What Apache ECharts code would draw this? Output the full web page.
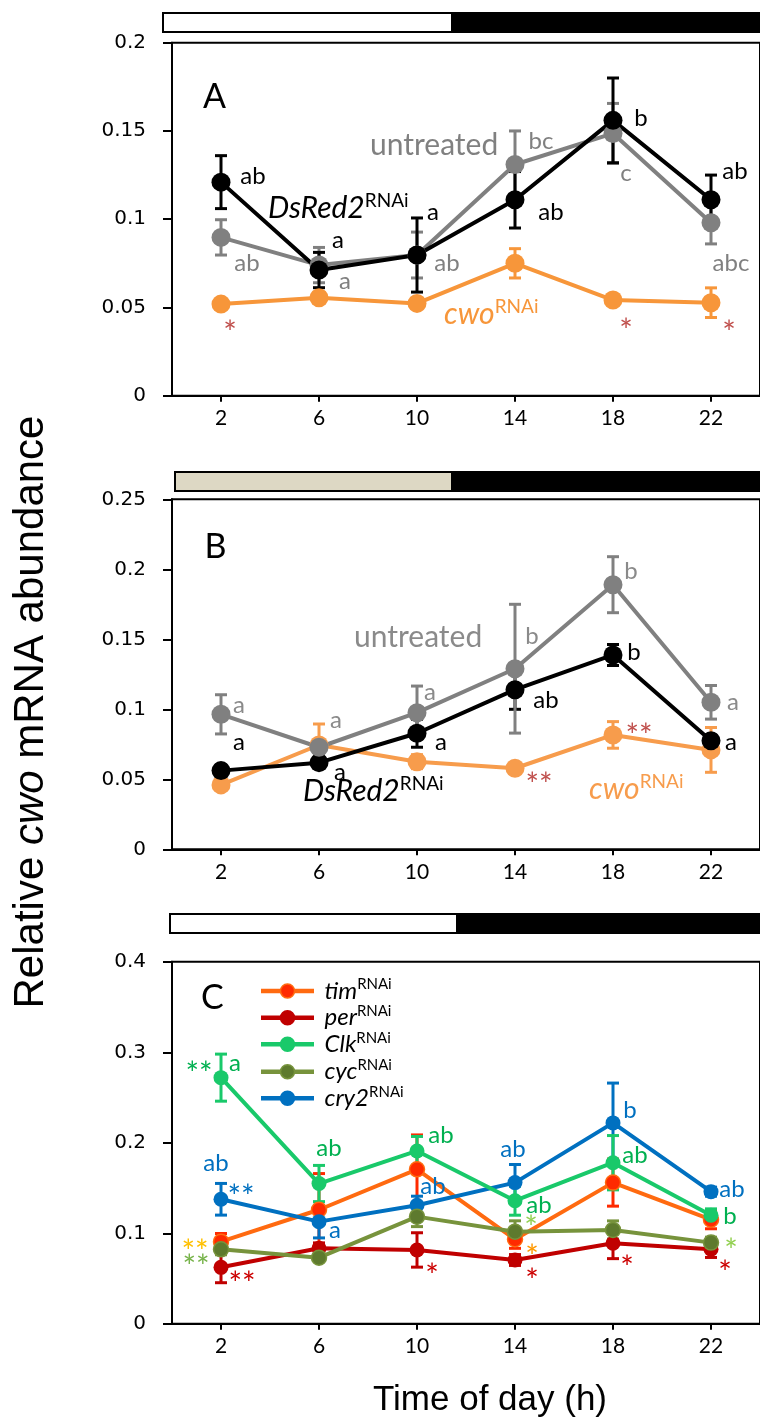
<!DOCTYPE html>
<html><head><meta charset="utf-8">
<script src="https://cdn.jsdelivr.net/npm/echarts@6/dist/echarts.min.js"></script>
<style>html,body{margin:0;padding:0;background:#fff}#c{width:760px;height:1420px}</style>
</head><body><div id="c"></div>
<script>
// ---------- DATA ----------
const hours = [2, 6, 10, 14, 18, 22];
const xTickLabels = ['2', '6', '10', '14', '18', '22'];

// Panel A
const A_untreated = [0.0897, 0.074, 0.0797, 0.131, 0.1486, 0.098];
const A_untreated_err = [0.010, 0.010, 0.013, 0.019, 0.017, 0.012];
const A_dsred = [0.121, 0.0712, 0.0797, 0.111, 0.156, 0.111];
const A_dsred_err = [0.015, 0.010, 0.021, 0.016, 0.024, 0.014];
const A_cwo = [0.0519, 0.0555, 0.0523, 0.075, 0.0542, 0.0527];
const A_cwo_err = [0.002, 0.003, 0.002, 0.0083, 0.002, 0.0084];
const A_untreated_letters = ['ab', 'a', 'ab', 'bc', 'c', 'abc'];
const A_dsred_letters = ['ab', 'a', 'a', 'ab', 'b', 'ab'];
const A_cwo_sig = ['*', '', '', '', '*', '*'];

// Panel B
const B_untreated = [0.0964, 0.0729, 0.0976, 0.129, 0.189, 0.105];
const B_untreated_err = [0.014, 0.005, 0.019, 0.046, 0.020, 0.012];
const B_dsred = [0.0562, 0.0619, 0.0829, 0.114, 0.1388, 0.0776];
const B_dsred_err = [0.004, 0.004, 0.010, 0.014, 0.0075, 0.004];
const B_cwo = [0.046, 0.0745, 0.0626, 0.0579, 0.0817, 0.071];
const B_cwo_err = [0.003, 0.015, 0.005, 0.003, 0.0095, 0.016];
const B_untreated_letters = ['a', 'a', 'a', 'b', 'b', 'a'];
const B_dsred_letters = ['a', 'a', 'a', 'ab', 'b', 'a'];
const B_cwo_sig = ['', '', '', '**', '**', ''];

// Panel C
const C_names = ['tim', 'per', 'Clk', 'cyc', 'cry2'];
const C_tim = [0.0908, 0.126, 0.1707, 0.0934, 0.156, 0.115];
const C_tim_err = [0.009, 0.040, 0.038, 0.010, 0.026, 0.010];
const C_per = [0.0624, 0.0834, 0.0816, 0.0705, 0.089, 0.0823];
const C_per_err = [0.017, 0.006, 0.019, 0.006, 0.017, 0.009];
const C_clk = [0.272, 0.155, 0.191, 0.136, 0.178, 0.120];
const C_clk_err = [0.026, 0.020, 0.016, 0.016, 0.030, 0.007];
const C_cyc = [0.0823, 0.0731, 0.1184, 0.1018, 0.1037, 0.0897];
const C_cyc_err = [0.006, 0.004, 0.011, 0.012, 0.010, 0.006];
const C_cry2 = [0.1376, 0.1129, 0.131, 0.156, 0.222, 0.146];
const C_cry2_err = [0.0175, 0.018, 0.010, 0.020, 0.044, 0.005];
const C_clk_letters = ['a', 'ab', 'ab', 'ab', 'ab', 'b'];
const C_cry2_letters = ['ab', 'a', 'ab', 'ab', 'b', 'ab'];
const C_clk_sig = ['**', '', '', '', '', ''];
const C_cry2_sig = ['**', '', '', '', '', ''];
const C_tim_sig = ['**', '', '', '*', '', ''];
const C_cyc_sig = ['**', '', '', '*', '', '*'];
const C_per_sig = ['**', '', '*', '*', '*', '*'];

// ---------- STYLE ----------
const BLACK = '#000000', GRAY = '#808080', ORANGE_A = '#F7963A', ORANGE_B = '#F79C4C';
const SIGRED = '#C0504D';
const TIM = '#FF6A10', TIM_M = '#FF2A00', PER = '#C00000', CLK = '#19C96A', CYC = '#77933C', CYC_M = '#5E7A2E', CRY = '#0070C0';
const LET_GREEN = '#00B050';
const LETTER_FONT = 'Lato';
const STAR_SIZE = 32;

const chart = echarts.init(document.getElementById('c'), null, {renderer: 'canvas'});

const grids = [
  {left: 172, top: 42.7, width: 600, height: 353},
  {left: 172, top: 499.3, width: 600, height: 350},
  {left: 172, top: 961.8, width: 600, height: 362}
];
const yMax = [0.2, 0.25, 0.4];
const yInt = [0.05, 0.05, 0.1];

const series = [];
function errSeries(gi, vals, errs, color, capW, lw) {
  series.push({
    type: 'custom', xAxisIndex: gi, yAxisIndex: gi, silent: true,
    data: hours.map((h, i) => [h, vals[i], errs[i]]),
    encode: {x: 0, y: 1},
    renderItem: function (params, api) {
      const x = api.value(0), v = api.value(1), e = api.value(2);
      const t = api.coord([x, v + e]), b = api.coord([x, v - e]);
      const st = {stroke: color, lineWidth: lw};
      return {type: 'group', children: [
        {type: 'line', shape: {x1: t[0], y1: t[1], x2: b[0], y2: b[1]}, style: st},
        {type: 'line', shape: {x1: t[0] - capW / 2, y1: t[1], x2: t[0] + capW / 2, y2: t[1]}, style: st},
        {type: 'line', shape: {x1: b[0] - capW / 2, y1: b[1], x2: b[0] + capW / 2, y2: b[1]}, style: st}
      ]};
    }
  });
}
function lineSeries(gi, name, vals, color, mcolor, size, lw, bcolor) {
  series.push({
    type: 'line', name: name, xAxisIndex: gi, yAxisIndex: gi,
    data: hours.map((h, i) => [h, vals[i]]),
    symbol: 'circle', symbolSize: size, showSymbol: true,
    lineStyle: {color: color, width: lw},
    itemStyle: {color: mcolor, borderColor: bcolor || mcolor, borderWidth: bcolor ? 1.5 : 0},
    emphasis: {disabled: true}, animation: false
  });
}
function annSeries(gi, vals, texts, offsets, color, size, colors) {
  const items = [];
  texts.forEach((t, i) => {
    if (!t) return;
    const o = offsets[i];
    const isStar = t.indexOf('*') >= 0;
    items.push({x: hours[i], y: vals[i], dx: o[0], dy: o[1] + (isStar ? Math.round(STAR_SIZE * 0.27) : 0),
      text: t, size: isStar ? STAR_SIZE : size,
      color: colors && colors[i] ? colors[i] : color});
  });
  series.push({
    type: 'custom', xAxisIndex: gi, yAxisIndex: gi, silent: true, clip: false, z: 5,
    data: items.map(a => [a.x, a.y]),
    encode: {x: 0, y: 1},
    renderItem: function (params, api) {
      const a = items[params.dataIndex];
      const p = api.coord([a.x, a.y]);
      return {type: 'text', x: p[0] + a.dx, y: p[1] + a.dy,
        style: {text: a.text, fill: a.color, font: a.size + 'px ' + LETTER_FONT, align: 'center', verticalAlign: 'middle'}};
    }
  });
}

// Panel A (order: orange, gray, black)
errSeries(0, A_cwo, A_cwo_err, ORANGE_A, 12, 3);
lineSeries(0, 'A cwo', A_cwo, ORANGE_A, ORANGE_A, 19, 4);
errSeries(0, A_untreated, A_untreated_err, GRAY, 12, 3);
lineSeries(0, 'A untreated', A_untreated, GRAY, GRAY, 19, 4);
errSeries(0, A_dsred, A_dsred_err, BLACK, 12, 3);
lineSeries(0, 'A dsred', A_dsred, BLACK, BLACK, 19, 4);
annSeries(0, A_dsred, A_dsred_letters, [[32,-6],[19,-30],[16,-43],[36,12],[28,-2],[24,-29]], BLACK, 24);
annSeries(0, A_untreated, A_untreated_letters, [[26,26],[26,16],[30,8],[26,-23],[13,40],[20,41]], GRAY, 24);
annSeries(0, A_cwo, A_cwo_sig, [[9,21],null,null,null,[13,23],[18,22]], SIGRED, 22);

// Panel B (order: orange, black, gray)
errSeries(1, B_cwo, B_cwo_err, ORANGE_B, 12, 3);
lineSeries(1, 'B cwo', B_cwo, ORANGE_B, ORANGE_B, 19, 4);
errSeries(1, B_dsred, B_dsred_err, BLACK, 12, 3);
lineSeries(1, 'B dsred', B_dsred, BLACK, BLACK, 19, 4);
errSeries(1, B_untreated, B_untreated_err, GRAY, 12, 3);
lineSeries(1, 'B untreated', B_untreated, GRAY, GRAY, 19, 4);
annSeries(1, B_untreated, B_untreated_letters, [[18,-9],[17,-27],[13,-20],[17,-32],[18,-13],[22,0]], '#8A8A8A', 24);
annSeries(1, B_dsred, B_dsred_letters, [[18,-28],[21,10],[24,9],[31,11],[21,-3],[20,2]], BLACK, 24);
annSeries(1, B_cwo, B_cwo_sig, [null,null,null,[24,8],[26,-7],null], SIGRED, 22);

// Panel C (order: tim, per, cry2, Clk, cyc)
const C_style = {
  tim: {vals: C_tim, err: C_tim_err, line: TIM, marker: TIM_M, border: TIM},
  per: {vals: C_per, err: C_per_err, line: PER, marker: PER},
  cry2: {vals: C_cry2, err: C_cry2_err, line: CRY, marker: CRY},
  Clk: {vals: C_clk, err: C_clk_err, line: CLK, marker: CLK},
  cyc: {vals: C_cyc, err: C_cyc_err, line: CYC, marker: CYC_M, border: CYC}
};
['tim', 'per', 'cry2', 'Clk', 'cyc'].forEach(n => {
  const s = C_style[n];
  errSeries(2, s.vals, s.err, n === 'tim' ? TIM_M : s.line, 12, 3);
  lineSeries(2, n, s.vals, s.line, s.marker, 15, 4, s.border);
});
annSeries(2, C_clk, C_clk_letters, [[14,-14],[10,-35],[24,-16],[24,5],[22,-7],[19,1]], LET_GREEN, 24);
annSeries(2, C_clk, C_clk_sig, [[-22,-12]], LET_GREEN, 22);
annSeries(2, C_cry2, C_cry2_letters, [[-5,-36],[16,9],[16,-19],[-2,-33],[17,-13],[21,-2]], CRY, 24);
annSeries(2, C_cry2, C_cry2_sig, [[20,-11]], CRY, 22);
annSeries(2, C_tim, C_tim_sig, [[-26,2],null,null,[17,9]], '#FF9900', 22, ['#FFC000']);
annSeries(2, C_cyc, C_cyc_sig, [[-25,9],null,null,[16,-12],null,[20,0]], '#92D050', 22, ['#77B34A']);
annSeries(2, C_per, C_per_sig, [[21,8],null,[15,18],[17,13],[14,16],[14,15]], '#CC0000', 22);

const xAxes = grids.map((g, i) => ({
  gridIndex: i, type: 'value', min: 0, max: 24,
  axisLine: {show: true, lineStyle: {color: '#000', width: 2}},
  axisTick: {show: true, customValues: hours, length: 6, lineStyle: {color: '#000', width: 2}},
  axisLabel: {show: true, customValues: hours, margin: 12, fontFamily: 'Lato', fontSize: 21, color: '#000',
    formatter: v => xTickLabels[hours.indexOf(v)] || ''},
  splitLine: {show: false}
}));
const yAxes = grids.map((g, i) => ({
  gridIndex: i, type: 'value', min: 0, max: yMax[i], interval: yInt[i],
  axisLine: {show: true, lineStyle: {color: '#000', width: 2}},
  axisTick: {show: true, length: 9, lineStyle: {color: '#000', width: 2}},
  axisLabel: {margin: 26, fontFamily: 'DejaVu Sans', fontSize: 20, color: '#000'},
  splitLine: {show: false}
}));

function rt(x, y, text, rich, extra) {
  return Object.assign({type: 'text', x: x, y: y, z: 10, silent: true,
    style: {text: text, rich: rich, verticalAlign: 'middle', align: 'left'}}, extra || {});
}
function nameRich(color, big, small) {
  return {
    i: {fontFamily: 'Lato', fontStyle: 'italic', fontSize: big, lineHeight: big + 4, fill: color},
    s: {fontFamily: 'Lato', fontSize: small, lineHeight: small + 3, verticalAlign: 'top', fill: color},
    n: {fontFamily: 'Lato', fontSize: big, lineHeight: big + 4, fill: color}
  };
}

const graphics = [
  // day/night bars
  {type: 'rect', shape: {x: 163, y: 13, width: 289, height: 19}, style: {fill: '#fff', stroke: '#000', lineWidth: 2}, silent: true},
  {type: 'rect', shape: {x: 452, y: 12, width: 320, height: 21}, style: {fill: '#000'}, silent: true},
  {type: 'rect', shape: {x: 175, y: 472, width: 277, height: 19}, style: {fill: '#DDD8C4', stroke: '#000', lineWidth: 2}, silent: true},
  {type: 'rect', shape: {x: 452, y: 471, width: 320, height: 21}, style: {fill: '#000'}, silent: true},
  {type: 'rect', shape: {x: 170, y: 914, width: 287, height: 19}, style: {fill: '#fff', stroke: '#000', lineWidth: 2}, silent: true},
  {type: 'rect', shape: {x: 457, y: 913, width: 315, height: 21}, style: {fill: '#000'}, silent: true},
  // panel letters
  {type: 'text', x: 214.6, y: 96.7, style: {text: 'A', font: '34px Lato', fill: '#000', align: 'center', verticalAlign: 'middle'}, silent: true},
  {type: 'text', x: 215.4, y: 546.7, style: {text: 'B', font: '34px Lato', fill: '#000', align: 'center', verticalAlign: 'middle'}, silent: true},
  {type: 'text', x: 212.4, y: 998.3, style: {text: 'C', font: '34px Lato', fill: '#000', align: 'center', verticalAlign: 'middle'}, silent: true},
  // series names
  rt(370, 145, '{n|untreated}', nameRich(GRAY, 30, 19)),
  rt(268, 208, '{i|DsRed2}{s|RNAi}', nameRich(BLACK, 30, 19)),
  rt(444, 314, '{i|cwo}{s|RNAi}', nameRich(ORANGE_A, 30, 19)),
  rt(354, 637, '{n|untreated}', nameRich('#8A8A8A', 30, 19)),
  rt(303, 791, '{i|DsRed2}{s|RNAi}', nameRich(BLACK, 30, 19)),
  rt(589, 789, '{i|cwo}{s|RNAi}', nameRich(ORANGE_B, 30, 19)),
  // axis titles
  {type: 'text', x: 31, y: 712, rotation: Math.PI / 2, silent: true,
    style: {text: '{n|Relative }{it|cwo}{n| mRNA abundance}', align: 'center', verticalAlign: 'middle',
      rich: {n: {fontFamily: 'Liberation Sans', fontSize: 42, fill: '#000'},
             it: {fontFamily: 'Liberation Sans', fontStyle: 'italic', fontSize: 42, fill: '#000'}}}},
  {type: 'text', x: 490, y: 1400, silent: true,
    style: {text: 'Time of day (h)', font: '35px "Liberation Sans"', fill: '#000', align: 'center', verticalAlign: 'middle'}}
];

// legend for panel C (drawn as graphic keys)
const legendRows = [991, 1017.7, 1044.3, 1071.7, 1098.3];
C_names.forEach((n, k) => {
  const s = C_style[n];
  const y = legendRows[k];
  graphics.push({type: 'line', shape: {x1: 261, y1: y, x2: 314, y2: y}, style: {stroke: s.line, lineWidth: 4.5}, silent: true});
  graphics.push({type: 'circle', shape: {cx: 287.5, cy: y, r: 7}, style: {fill: s.marker, stroke: s.border || s.marker, lineWidth: 1.5}, silent: true});
  graphics.push(rt(324.5, y, '{i|' + n + '}{s|RNAi}', nameRich('#000', 24, 15)));
});

const option = {
  backgroundColor: '#fff',
  animation: false,
  grid: grids.map(g => Object.assign({show: true, borderColor: '#000', borderWidth: 2, backgroundColor: 'transparent', containLabel: false}, g)),
  xAxis: xAxes,
  yAxis: yAxes,
  series: series,
  graphic: graphics
};
chart.setOption(option);
</script></body></html>
